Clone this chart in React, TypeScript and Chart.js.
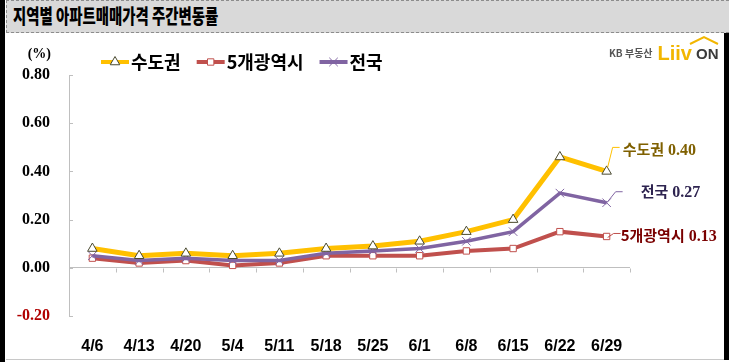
import React, { useEffect, useRef } from 'react';
import { Chart, registerables } from 'chart.js';

Chart.register(...registerables);

const categories = ['4/6', '4/13', '4/20', '5/4', '5/11', '5/18', '5/25', '6/1', '6/8', '6/15', '6/22', '6/29'];
const capitalArea = [0.08, 0.05, 0.06, 0.05, 0.06, 0.08, 0.09, 0.11, 0.15, 0.2, 0.46, 0.4];
const metroCities = [0.04, 0.02, 0.03, 0.01, 0.02, 0.05, 0.05, 0.05, 0.07, 0.08, 0.15, 0.13];
const nationwide = [0.05, 0.03, 0.04, 0.03, 0.03, 0.06, 0.07, 0.08, 0.11, 0.15, 0.31, 0.27];
const seriesNames = ['수도권', '5개광역시', '전국'];
const yTickValues = [-0.2, 0, 0.2, 0.4, 0.6, 0.8];
const titleText = '지역별 아파트매매가격 주간변동률';
const unitText = '(%)';

const KR = '"Noto Sans CJK KR", "Noto Sans", sans-serif';
const SERIF = '"Liberation Serif", "DejaVu Serif", serif';
const SANS = '"Liberation Sans", Arial, sans-serif';

const lineColors = ['#ffc000', '#c0504d', '#8064a2'];
const labelColors = ['#7f6000', '#7a0000', '#2e2450'];

function drawMarker(ctx: CanvasRenderingContext2D, ds: any, cx: number, cy: number) {
  const r = ds.pointRadius;
  ctx.save();
  ctx.fillStyle = ds.pointBackgroundColor;
  ctx.strokeStyle = ds.pointBorderColor;
  ctx.lineWidth = ds.pointBorderWidth;
  ctx.beginPath();
  if (ds.pointStyle === 'triangle') {
    for (let k = 0; k < 3; k++) {
      const a = -Math.PI / 2 + (k * 2 * Math.PI) / 3;
      const px = cx + Math.cos(a) * r;
      const py = cy + Math.sin(a) * r;
      if (k === 0) ctx.moveTo(px, py);
      else ctx.lineTo(px, py);
    }
    ctx.closePath();
    ctx.fill();
    ctx.stroke();
  } else if (ds.pointStyle === 'rect') {
    const h = r * Math.SQRT1_2;
    ctx.rect(cx - h, cy - h, 2 * h, 2 * h);
    ctx.fill();
    ctx.stroke();
  } else {
    const h = r * Math.SQRT1_2;
    ctx.moveTo(cx - h, cy - h);
    ctx.lineTo(cx + h, cy + h);
    ctx.moveTo(cx - h, cy + h);
    ctx.lineTo(cx + h, cy - h);
    ctx.stroke();
  }
  ctx.restore();
}

const overlayPlugin = {
  id: 'overlay',
  afterDraw(chart: any) {
    const ctx = chart.ctx;
    const x = chart.scales.x;
    const y = chart.scales.y;
    const ca = chart.chartArea;
    ctx.save();

    // y tick marks (inside)
    ctx.strokeStyle = '#bfbfbf';
    ctx.lineWidth = 1;
    yTickValues.forEach((v) => {
      const py = Math.round(y.getPixelForValue(v)) + 0.5;
      ctx.beginPath();
      ctx.moveTo(ca.left, py);
      ctx.lineTo(ca.left + 4, py);
      ctx.stroke();
    });
    // x tick marks on zero line
    const zy = Math.round(y.getPixelForValue(0)) + 0.5;
    const step = (ca.right - ca.left) / categories.length;
    for (let i = 1; i <= categories.length; i++) {
      const px = Math.round(x.getPixelForValue(i - 1) + step / 2) + 0.5;
      ctx.beginPath();
      ctx.moveTo(px, zy);
      ctx.lineTo(px, zy + 4);
      ctx.stroke();
    }

    // unit
    ctx.fillStyle = '#000';
    ctx.font = `bold 14px ${SERIF}`;
    ctx.textAlign = 'right';
    ctx.textBaseline = 'middle';
    ctx.fillText(unitText, ca.left - 18, ca.top - 21);

    // legend
    const legendY = ca.top - 13;
    let lx = ca.left + 32;
    const metas = [0, 1, 2].map((i) => chart.getDatasetMeta(i));
    seriesNames.forEach((name, i) => {
      const ds = chart.data.datasets[i];
      ctx.strokeStyle = lineColors[i];
      ctx.lineWidth = 4;
      ctx.beginPath();
      ctx.moveTo(lx, legendY);
      ctx.lineTo(lx + 28, legendY);
      ctx.stroke();
      drawMarker(ctx, ds, lx + 14, legendY);
      ctx.fillStyle = '#000';
      ctx.font = `bold 18px ${KR}`;
      ctx.textAlign = 'left';
      ctx.textBaseline = 'middle';
      ctx.fillText(name, lx + 30, legendY);
      const w = ctx.measureText(name).width;
      lx = lx + 30 + w + 16;
    });

    // end labels (order: 수도권, 5개광역시, 전국)
    const offsets = [
      { lead: [[1, -4], [6, -24], [13, -24]], tx: 16, ty: -22 },
      { lead: [[1, 1], [7, -3], [14, -3]], tx: 14, ty: -1 },
      { lead: [[1, -1], [9, -11], [16, -11]], tx: 34, ty: -11 },
    ];
    const allData = [capitalArea, metroCities, nationwide];
    seriesNames.forEach((name, i) => {
      const pts = metas[i].data;
      const p = pts[pts.length - 1];
      const o = offsets[i];
      ctx.strokeStyle = lineColors[i];
      ctx.lineWidth = 1;
      ctx.beginPath();
      o.lead.forEach(([dx, dy], k) => {
        if (k === 0) ctx.moveTo(p.x + dx, p.y + dy);
        else ctx.lineTo(p.x + dx, p.y + dy);
      });
      ctx.stroke();
      const data = allData[i];
      const val = data[data.length - 1].toFixed(2);
      ctx.fillStyle = labelColors[i];
      ctx.textAlign = 'left';
      ctx.textBaseline = 'middle';
      ctx.font = `bold 15px ${KR}`;
      const tx = p.x + o.tx;
      const ty = p.y + o.ty;
      ctx.fillText(name, tx, ty);
      const nw = ctx.measureText(name).width;
      ctx.font = `bold 16px ${SERIF}`;
      ctx.fillText(val, tx + nw + 4, ty + 1);
    });

    // logo
    const lgx = ca.right - 21;
    const lgy = ca.top - 22;
    ctx.textBaseline = 'middle';
    ctx.textAlign = 'left';
    ctx.fillStyle = '#555';
    ctx.font = `bold 10px ${KR}`;
    ctx.fillText('KB 부동산', lgx, lgy);
    const kbw = ctx.measureText('KB 부동산').width;
    ctx.fillStyle = '#f2b600';
    ctx.font = `900 20px ${SANS}`;
    const liv = 'Liiv';
    const lx2 = lgx + kbw + 5;
    ctx.fillText(liv, lx2, lgy + 1);
    const lw = ctx.measureText(liv).width;
    ctx.fillStyle = '#3a3a3a';
    ctx.font = `bold 15px ${SANS}`;
    ctx.fillText('ON', lx2 + lw + 4, lgy + 2);
    ctx.strokeStyle = '#f2b600';
    ctx.lineWidth = 2;
    ctx.beginPath();
    ctx.moveTo(lx2 + lw - 2, lgy - 9);
    ctx.lineTo(lx2 + lw + 12, lgy - 16);
    ctx.lineTo(lx2 + lw + 26, lgy - 9);
    ctx.stroke();

    ctx.restore();
  },
};

export default function App() {
  const ref = useRef<HTMLCanvasElement>(null);
  useEffect(() => {
    document.body.style.margin = '0';
    const chart = new Chart(ref.current!, {
      type: 'line',
      data: {
        labels: categories,
        datasets: [
          {
            label: seriesNames[0],
            data: capitalArea,
            borderColor: lineColors[0],
            borderWidth: 5,
            pointStyle: 'triangle',
            pointRadius: 5.5,
            pointBackgroundColor: '#ffffff',
            pointBorderColor: '#4a4a30',
            pointBorderWidth: 1,
            order: 1,
          } as any,
          {
            label: seriesNames[1],
            data: metroCities,
            borderColor: lineColors[1],
            borderWidth: 4,
            pointStyle: 'rect',
            pointRadius: 4.5,
            pointBackgroundColor: '#ffffff',
            pointBorderColor: '#c0504d',
            pointBorderWidth: 1,
            order: 3,
          },
          {
            label: seriesNames[2],
            data: nationwide,
            borderColor: lineColors[2],
            borderWidth: 3.5,
            pointStyle: 'crossRot',
            pointRadius: 6,
            pointBackgroundColor: '#ffffff',
            pointBorderColor: '#8064a2',
            pointBorderWidth: 1,
            order: 2,
          },
        ],
      },
      options: {
        animation: false,
        responsive: false,
        maintainAspectRatio: false,
        layout: { padding: { top: 42, right: 94, left: 0, bottom: 0 } },
        plugins: { legend: { display: false }, tooltip: { enabled: false } },
        scales: {
          x: {
            type: 'category',
            offset: true,
            grid: { display: false },
            border: { display: false },
            ticks: {
              color: '#000',
              font: { family: SANS, size: 16, weight: 'bold' },
              padding: 13,
              maxRotation: 0,
              autoSkip: false,
            },
            afterFit: (s: any) => {
              s.height = 43;
            },
          },
          y: {
            min: -0.2,
            max: 0.8,
            afterBuildTicks: (s: any) => {
              s.ticks = yTickValues.map((v) => ({ value: v }));
            },
            grid: {
              drawTicks: false,
              color: (c: any) => (c.tick && c.tick.value === 0 ? '#bfbfbf' : 'rgba(0,0,0,0)'),
              lineWidth: 1,
            },
            border: { display: true, color: '#bfbfbf', width: 1 },
            ticks: {
              color: (c: any) => (c.tick && c.tick.value < 0 ? '#b00000' : '#000'),
              font: { family: SERIF, size: 16, weight: 'bold' },
              padding: 19,
              callback: (v: any) => Number(v).toFixed(2),
            },
            afterFit: (s: any) => {
              s.width = 63;
            },
          },
        },
      },
      plugins: [overlayPlugin],
    });
    return () => chart.destroy();
  }, []);

  return (
    <div style={{ position: 'fixed', left: 0, top: 0, width: 729, height: 362, background: '#fff', overflow: 'hidden' }}>
      <div style={{ position: 'absolute', left: 0, top: 0, width: 5, height: 362, background: '#000' }} />
      <div
        style={{
          position: 'absolute',
          left: 6,
          top: 0,
          width: 722,
          height: 31,
          background: '#d9d9d9',
          borderTop: '1px dashed #8c8c8c',
          borderBottom: '1px dashed #8c8c8c',
          borderLeft: '1px dashed #8c8c8c',
          overflow: 'hidden',
        }}
      >
        <div
          style={{
            position: 'absolute',
            left: 6,
            top: 1,
            whiteSpace: 'nowrap',
            fontFamily: KR,
            fontWeight: 900,
            fontSize: 20,
            lineHeight: '28px',
            color: '#000',
            transform: 'scaleX(0.72)',
            transformOrigin: 'left center',
          }}
        >
          {titleText}
        </div>
      </div>
      <div style={{ position: 'absolute', left: 724, top: 33, width: 5, height: 327, background: '#000' }} />
      <div style={{ position: 'absolute', left: 6, top: 359, width: 718, height: 1, background: '#c8c8c8' }} />
      <div style={{ position: 'absolute', left: 6, top: 33, width: 718, height: 326 }}>
        <canvas ref={ref} width={718} height={326} style={{ width: 718, height: 326, display: 'block' }} />
      </div>
    </div>
  );
}
